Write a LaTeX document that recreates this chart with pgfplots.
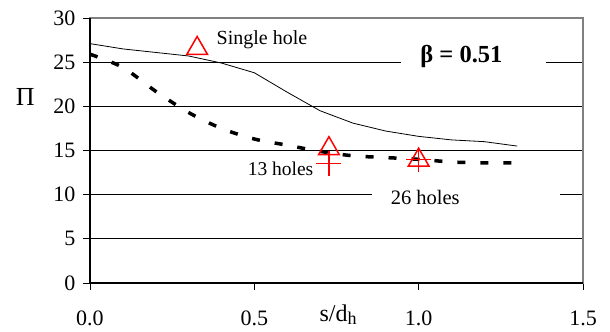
\documentclass[border=0pt]{standalone}
\usepackage{pgfplots}
\pgfplotsset{compat=1.18}
\usepackage{fontspec}
\setmainfont{Liberation Serif}
\begin{document}
\begin{tikzpicture}
\begin{axis}[
  scale only axis, width=493bp, height=265bp,
  xmin=0, xmax=1.5, ymin=0, ymax=30,
  xtick={0,0.5,1,1.5}, xticklabels={0.0,0.5,1.0,1.5},
  ytick={0,5,10,15,20,25,30},
  /pgf/number format/assume math mode=true,
  tick align=outside, major tick length=7bp,
  tick style={black, line width=0.8bp},
  xtick pos=bottom, ytick pos=left,
  ymajorgrids, grid style={black, line width=0.8bp},
  axis line style={gray, line width=1.2bp},
  ticklabel style={font=\fontsize{22bp}{26bp}\selectfont},
  xticklabel style={yshift=-17bp},
  yticklabel style={xshift=-4bp},
  clip=false,
]
\draw[black, line width=1.2bp] (rel axis cs:0,1) -- (rel axis cs:0,0) -- (rel axis cs:1,0);
\fill[white] (axis cs:0.946,24.5) rectangle (axis cs:1.387,25.5);
\fill[white] (axis cs:0.858,9.5) rectangle (axis cs:1.43,10.5);
\addplot[black, line width=0.8bp] coordinates {
(0,27.1) (0.1,26.5) (0.2,26.1) (0.3,25.7) (0.4,24.9) (0.5,23.8) (0.6,21.6) (0.7,19.5) (0.8,18.1) (0.9,17.2) (1.0,16.6) (1.1,16.2) (1.2,16.0) (1.3,15.5)};
\addplot[black, line width=3.5bp, dash pattern=on 8bp off 15bp, smooth] coordinates {
(0,25.9) (0.1,24.4) (0.2,21.7) (0.3,19.3) (0.4,17.5) (0.5,16.3) (0.6,15.6) (0.7,14.9) (0.8,14.4) (0.9,14.2) (1.0,14.0) (1.1,13.7) (1.2,13.6) (1.3,13.6)};
\addplot[only marks, red, mark=triangle, mark size=12bp, mark options={line width=1.5bp}] coordinates {(0.326,26.55) (0.727,15.2) (1.0,13.9)};
\addplot[only marks, red, mark=+, mark size=12.5bp, mark options={line width=1.2bp}] coordinates {(0.727,13.5) (1.0,14.0)};
\node[anchor=west, font=\fontsize{20bp}{24bp}\selectfont, inner sep=0pt] at (axis cs:0.385,27.5) {Single hole};
\node[anchor=east, font=\fontsize{19.5bp}{24bp}\selectfont, inner sep=0pt] at (axis cs:0.68,12.9) {13 holes};
\node[font=\fontsize{20.5bp}{24bp}\selectfont, inner sep=0pt] at (axis cs:1.02,9.7) {26 holes};
\node[font=\bfseries\fontsize{24.5bp}{28bp}\selectfont, inner sep=0pt] at (axis cs:1.13,25.6) {β = 0.51};
\node[font=\fontsize{26bp}{30bp}\selectfont] at (axis cs:-0.197,21.1) {Π};
\node[anchor=base, font=\fontsize{24bp}{28bp}\selectfont, inner sep=0pt] at ([yshift=-38.5bp]axis cs:0.755,0) {s/d\raisebox{-0.25ex}{\fontsize{18bp}{20bp}\selectfont h}};
\end{axis}
\pgfresetboundingbox
\useasboundingbox ([shift={(-90bp,-49bp)}]current axis.south west) rectangle ([shift={(27bp,18bp)}]current axis.north east);
\end{tikzpicture}
\end{document}
